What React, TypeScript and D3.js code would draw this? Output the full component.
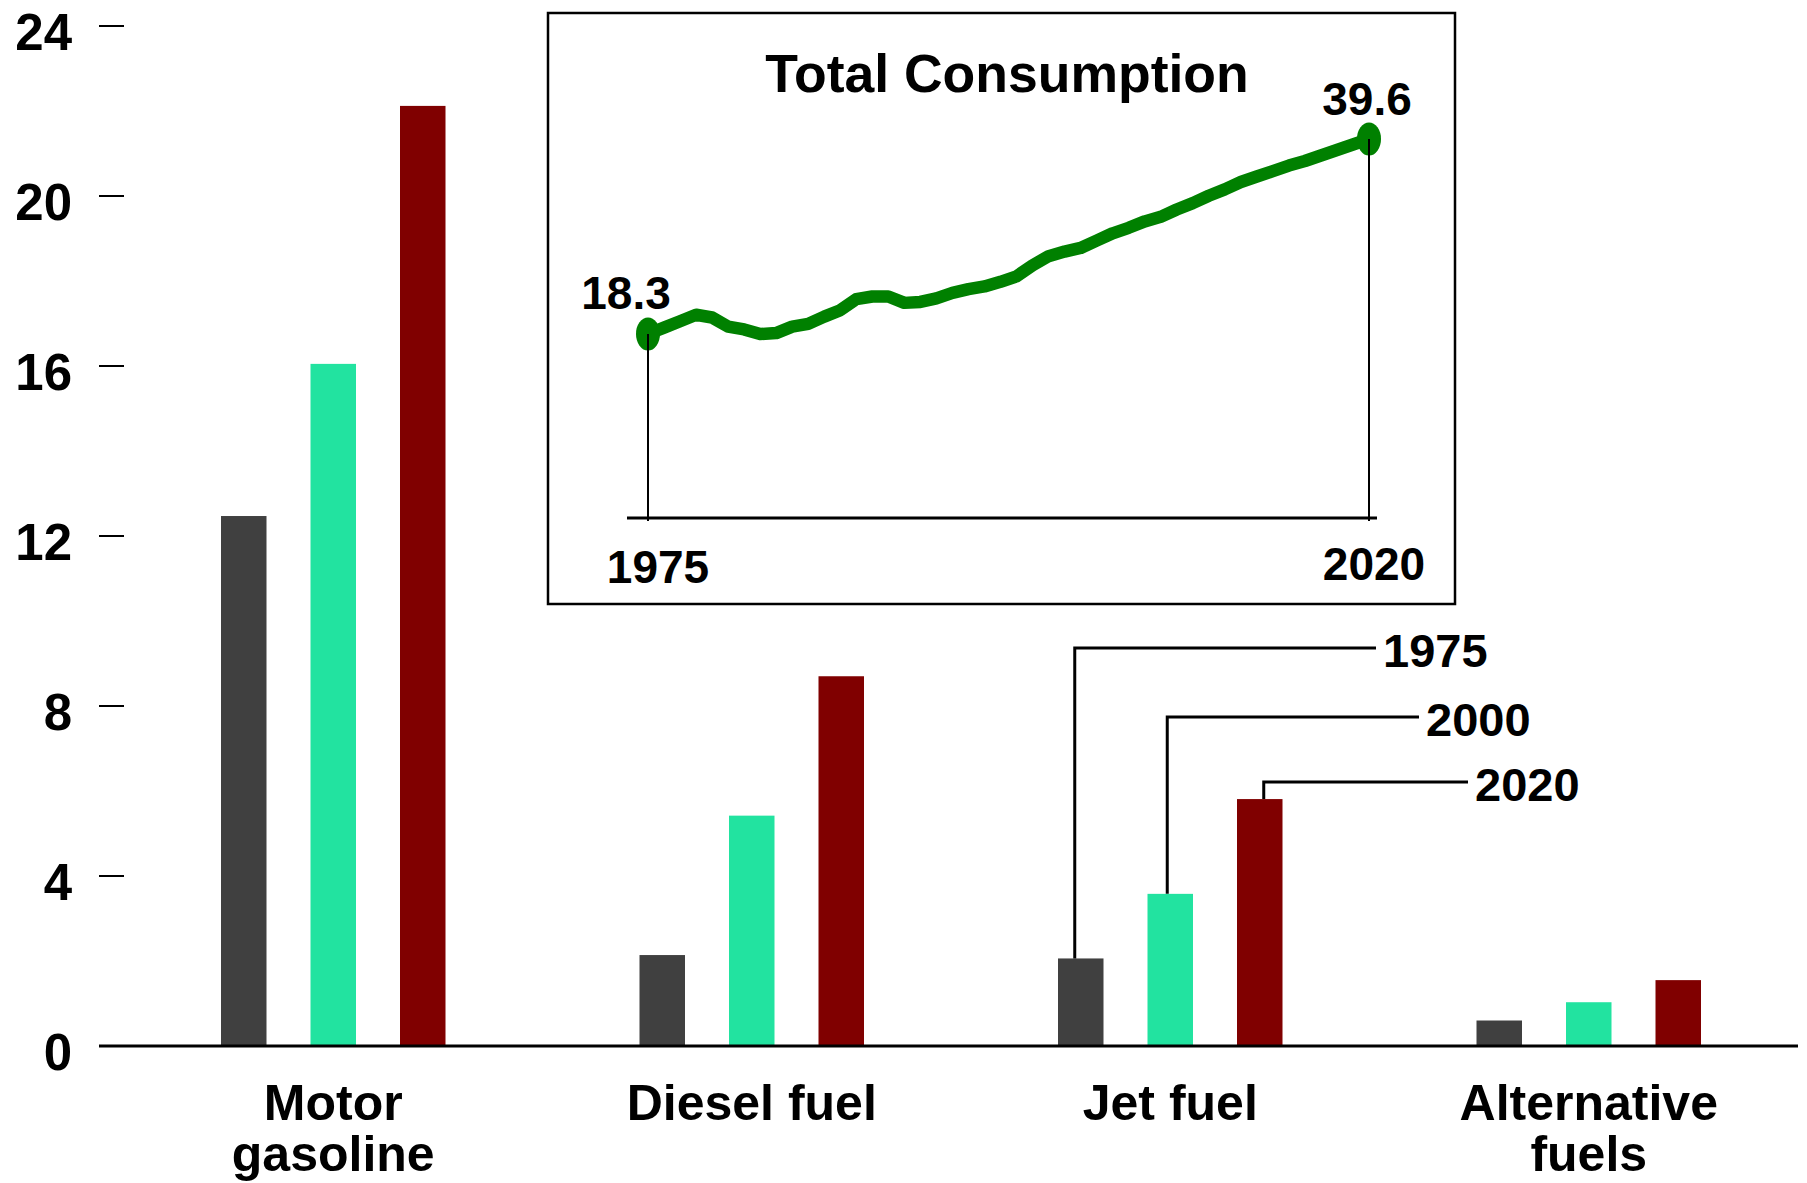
import React from "react";
import * as d3 from "d3";

const categories = ["Motor gasoline", "Diesel fuel", "Jet fuel", "Alternative fuels"];
const categoryLines = [["Motor", "gasoline"], ["Diesel fuel"], ["Jet fuel"], ["Alternative", "fuels"]];
const seriesYears = ["1975", "2000", "2020"];
const values1975 = [12.47, 2.14, 2.06, 0.6];
const values2000 = [16.05, 5.42, 3.58, 1.03];
const values2020 = [22.12, 8.7, 5.81, 1.55];
const seriesColors = ["#404040", "#22E3A0", "#800000"];
const yTicks = [0, 4, 8, 12, 16, 20, 24];

const totalYears = d3.range(1975, 2021);
const totalValues = [
  18.3, 19.0, 19.7, 20.4, 20.1, 19.1, 18.8, 18.3, 18.4, 19.1,
  19.4, 20.2, 20.9, 22.1, 22.4, 22.4, 21.7, 21.8, 22.2, 22.8,
  23.2, 23.5, 24.0, 24.6, 25.8, 26.8, 27.3, 27.7, 28.5, 29.3,
  29.9, 30.6, 31.1, 31.9, 32.6, 33.4, 34.1, 34.9, 35.5, 36.1,
  36.7, 37.2, 37.8, 38.4, 39.0, 39.6,
];

const W = 1807;
const H = 1183;
const FONT = "'Liberation Sans', Arial, Helvetica, sans-serif";

export default function App() {
  const series = [values1975, values2000, values2020];
  const x = d3.scaleBand<string>().domain(categories).range([124, 1798]);
  const inner = d3
    .scaleBand<string>()
    .domain(seriesYears)
    .range([-112.25, 112.25])
    .paddingInner(0.4916)
    .paddingOuter(0);
  const y = d3.scaleLinear().domain([0, 24]).range([1046, 26]);

  // inset
  const ix = d3.scaleLinear().domain([1975, 2020]).range([648, 1369]);
  const iy = d3.scaleLinear().domain([18.3, 39.6]).range([334, 139]);
  const line = d3
    .line<number>()
    .x((_, i) => ix(totalYears[i]))
    .y((d) => iy(d))
    .curve(d3.curveLinear);

  const jetIdx = 2;
  const leaderY = [648, 717, 782];
  const leaderEnd = [1376, 1419, 1468];
  const leaderOffset = [-6, -3, 4];

  const first = totalValues[0];
  const last = totalValues[totalValues.length - 1];

  return (
    <svg
      width={W}
      height={H}
      viewBox={`0 0 ${W} ${H}`}
      style={{ position: "absolute", left: 0, top: 0, background: "#fff" }}
      fontFamily={FONT}
      fontWeight="bold"
    >
      <rect x={0} y={0} width={W} height={H} fill="#fff" />
      {/* y ticks */}
      {yTicks.map((t) => (
        <g key={t}>
          <line x1={99} x2={124} y1={y(t)} y2={y(t)} stroke="#000" strokeWidth={2} />
          <text
            x={72}
            y={y(t) + 6}
            textAnchor="end"
            dominantBaseline="central"
            fontSize={51}
            fill="#000"
          >
            {t}
          </text>
        </g>
      ))}
      {/* bars */}
      {categories.map((c, ci) => (
        <g key={c} transform={`translate(${(x(c) as number) + x.bandwidth() / 2},0)`}>
          {series.map((s, si) => (
            <rect
              key={si}
              x={inner(seriesYears[si]) as number}
              y={y(s[ci])}
              width={inner.bandwidth()}
              height={y(0) - y(s[ci])}
              fill={seriesColors[si]}
            />
          ))}
        </g>
      ))}
      {/* baseline */}
      <line x1={99} x2={1798} y1={y(0)} y2={y(0)} stroke="#000" strokeWidth={3} />
      {/* category labels */}
      {categories.map((c, ci) => (
        <text
          key={c}
          x={(x(c) as number) + x.bandwidth() / 2}
          y={1120}
          textAnchor="middle"
          fontSize={50}
          fill="#000"
        >
          {categoryLines[ci].map((l, li) => (
            <tspan key={li} x={(x(c) as number) + x.bandwidth() / 2} dy={li === 0 ? 0 : 51}>
              {l}
            </tspan>
          ))}
        </text>
      ))}
      {/* leaders for jet fuel */}
      {series.map((s, si) => {
        const cx =
          (x(categories[jetIdx]) as number) +
          x.bandwidth() / 2 +
          (inner(seriesYears[si]) as number) +
          inner.bandwidth() / 2 +
          leaderOffset[si];
        return (
          <g key={si}>
            <polyline
              points={`${cx},${y(s[jetIdx])} ${cx},${leaderY[si]} ${leaderEnd[si]},${leaderY[si]}`}
              fill="none"
              stroke="#000"
              strokeWidth={3}
            />
            <text x={leaderEnd[si] + 7} y={leaderY[si] + 19} fontSize={47} fill="#000">
              {seriesYears[si]}
            </text>
          </g>
        );
      })}
      {/* inset */}
      <rect x={548} y={13} width={907} height={591} fill="#fff" stroke="#000" strokeWidth={2.5} />
      <text x={1007} y={92} textAnchor="middle" fontSize={53.5} fill="#000">
        Total Consumption
      </text>
      <line x1={627} x2={1377} y1={518} y2={518} stroke="#000" strokeWidth={3} />
      <line x1={ix(1975)} x2={ix(1975)} y1={iy(first)} y2={521} stroke="#000" strokeWidth={2} />
      <line x1={ix(2020)} x2={ix(2020)} y1={iy(last)} y2={521} stroke="#000" strokeWidth={2} />
      <path
        d={line(totalValues) || ""}
        fill="none"
        stroke="#008000"
        strokeWidth={12.5}
        strokeLinejoin="round"
        strokeLinecap="round"
      />
      <ellipse cx={ix(1975)} cy={iy(first)} rx={12} ry={16.5} fill="#008000" />
      <ellipse cx={ix(2020)} cy={iy(last)} rx={12} ry={16.5} fill="#008000" />
      <line x1={ix(1975)} x2={ix(1975)} y1={iy(first)} y2={iy(first) + 17} stroke="#000" strokeWidth={2} />
      <line x1={ix(2020)} x2={ix(2020)} y1={iy(last)} y2={iy(last) + 17} stroke="#000" strokeWidth={2} />
      <text x={626} y={309} textAnchor="middle" fontSize={46} fill="#000">
        {first.toFixed(1)}
      </text>
      <text x={1367} y={115} textAnchor="middle" fontSize={46} fill="#000">
        {last.toFixed(1)}
      </text>
      <text x={658} y={583} textAnchor="middle" fontSize={46} fill="#000">
        1975
      </text>
      <text x={1374} y={580} textAnchor="middle" fontSize={46} fill="#000">
        2020
      </text>
    </svg>
  );
}
